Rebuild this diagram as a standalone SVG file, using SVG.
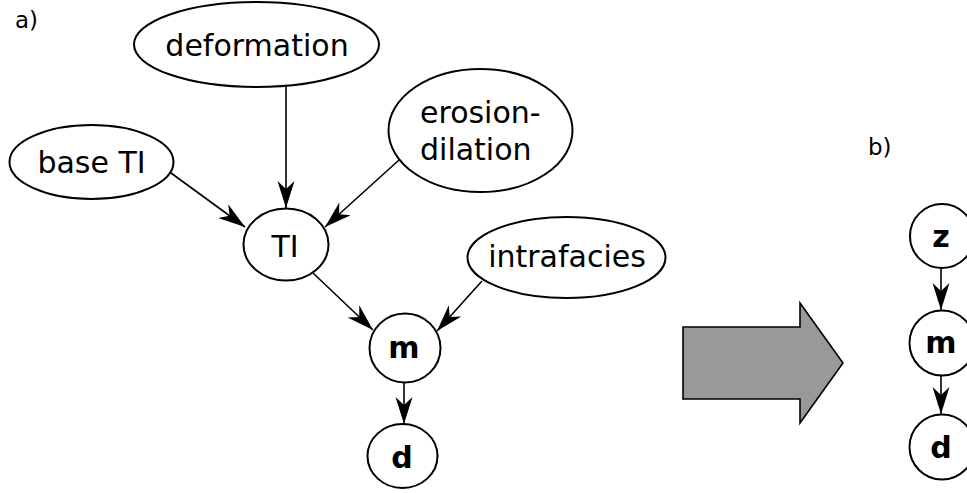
<svg xmlns="http://www.w3.org/2000/svg" width="967" height="493" viewBox="0 0 967 493">
<style>
.n{fill:#fff;stroke:#000;stroke-width:2}
.t{font-family:"DejaVu Sans",sans-serif;font-size:30px;fill:#000}
.c{text-anchor:middle}
.b{font-weight:bold}
.e{stroke:#000;stroke-width:1.6;fill:none;marker-end:url(#ah)}
.lbl{font-family:"DejaVu Sans",sans-serif;font-size:23px;fill:#000}
</style>
<defs>
<marker id="ah" markerUnits="userSpaceOnUse" markerWidth="30" markerHeight="20" viewBox="-1 -10 30 20" refX="27" refY="0" orient="auto">
<path d="M0,-8.5 L27,0 L0,8.5 L8,0 z" fill="#000"/>
</marker>
</defs>
<text class="lbl" x="15" y="28">a)</text>
<text class="lbl" x="868" y="155">b)</text>
<g id="connectors">
<line class="e" x1="286" y1="87" x2="286" y2="208"/>
<line class="e" x1="171" y1="173" x2="245" y2="227"/>
<line class="e" x1="399" y1="160" x2="325" y2="227"/>
<line class="e" x1="313" y1="273" x2="373" y2="330"/>
<line class="e" x1="482" y1="281" x2="437" y2="331"/>
<line class="e" x1="404" y1="383" x2="404" y2="424"/>
<line class="e" x1="941" y1="268" x2="941" y2="310"/>
<line class="e" x1="941" y1="376" x2="941" y2="414"/>
</g>
<g id="deformation"><ellipse class="n" cx="256.5" cy="44.5" rx="122.5" ry="42.5"/><text class="t c" x="257" y="56">deformation</text></g>
<g id="baseTI"><ellipse class="n" cx="91.5" cy="162" rx="82" ry="37"/><text class="t c" x="91.5" y="173">base TI</text></g>
<g id="erosion"><ellipse class="n" cx="480.5" cy="130.5" rx="92" ry="61.5"/><text class="t" x="420" y="123">erosion-</text><text class="t" x="420" y="160">dilation</text></g>
<g id="intrafacies"><ellipse class="n" cx="566.5" cy="257.5" rx="99" ry="40.5"/><text class="t c" x="567" y="267">intrafacies</text></g>
<g id="TI"><ellipse class="n" cx="286" cy="244.5" rx="42.5" ry="36"/><text class="t c" x="285" y="257">TI</text></g>
<g id="m"><ellipse class="n" cx="405" cy="348" rx="35.5" ry="34.5"/><text class="t c b" x="404" y="358">m</text></g>
<g id="d"><ellipse class="n" cx="402.5" cy="456" rx="35" ry="32"/><text class="t c b" x="402" y="468">d</text></g>
<g id="arrow"><polygon points="683,327 800,327 800,303 843,363 800,423 800,399 683,399" fill="#999999" stroke="#000" stroke-width="1.6"/></g>
<g id="z2"><circle class="n" cx="942" cy="236" r="32"/><text class="t c b" x="941" y="247">z</text></g>
<g id="m2"><circle class="n" cx="942" cy="343" r="32.5"/><text class="t c b" x="941" y="353">m</text></g>
<g id="d2"><circle class="n" cx="942" cy="447" r="32.5"/><text class="t c b" x="941" y="458">d</text></g>
</svg>
